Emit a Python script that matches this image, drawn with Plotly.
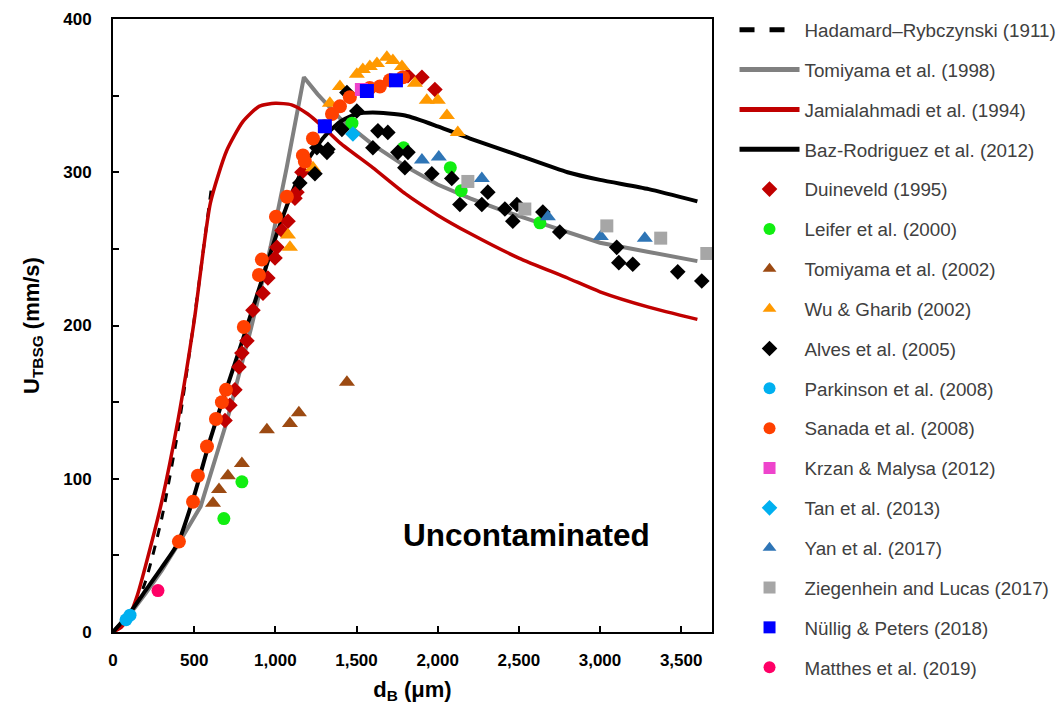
import plotly.graph_objects as go

# ---- model curves ----
hr_d = [0, 100, 200, 300, 400, 500, 610]
hr_u = [0, 8, 33, 74, 131, 204, 293]

tom98_d = [0, 100, 200, 300, 400, 540, 700, 850, 970, 1070, 1176, 1260, 1400, 1600, 1800, 2000, 2200, 2400, 2600, 2800, 3000, 3300, 3600]
tom98_u = [0, 11, 25, 40, 57, 82, 137, 198, 251, 303, 362, 351, 335, 318, 304, 292, 283, 275, 268, 261, 254, 248, 242]

jam_d = [0, 50, 100, 150, 200, 300, 400, 500, 600, 700, 800, 900, 1000, 1100, 1200, 1300, 1400, 1600, 1800, 2000, 2200, 2500, 2800, 3000, 3300, 3600]
jam_u = [0, 3, 10, 24, 43, 85, 138, 203, 280, 314, 333, 343, 345, 344, 338, 329, 319, 303, 286, 272, 260, 244, 231, 222, 212, 204]

baz_d = [0, 100, 200, 300, 400, 500, 600, 700, 800, 900, 1000, 1100, 1200, 1300, 1400, 1500, 1600, 1800, 2000, 2200, 2500, 2800, 3000, 3300, 3600]
baz_u = [0, 12, 27, 42, 58, 89, 126, 159, 191, 224, 257, 286, 308, 323, 333, 338, 339, 337, 330, 322, 311, 300, 295, 289, 281]

duin_d = [690, 720, 751, 776, 794, 825, 862, 924, 954, 998, 1010, 1041, 1078, 1121, 1133, 1164, 1817, 1903, 1983]
duin_u = [138, 148, 158, 173, 182, 190, 210, 221, 231, 244, 251, 262, 268, 283, 287, 300, 363, 362, 354]

leif_d = [683, 794, 1472, 1790, 2078, 2145, 2630]
leif_u = [74, 98, 332, 316, 303, 288, 267]

tom02_d = [616, 653, 708, 794, 948, 1090, 1145, 1441]
tom02_u = [84, 93, 102, 110, 132, 136, 143, 163]

wu_d = [1078, 1090, 1232, 1336, 1398, 1502, 1539, 1582, 1626, 1687, 1724, 1780, 1860, 1933, 2001, 2057, 2124]
wu_u = [259, 251, 303, 345, 356, 364, 367, 369, 371, 375, 373, 369, 358, 347, 347, 337, 326]

alves_d = [1151, 1244, 1318, 1256, 1324, 1410, 1441, 1502, 1632, 1693, 1601, 1755, 1817, 1798, 1964, 2087, 2137,
           2272, 2309, 2414, 2463, 2488, 2648, 2752, 3103, 3116, 3202, 3479, 3627]
alves_u = [293, 299, 313, 316, 315, 328, 352, 340, 327, 326, 316, 313, 313, 303, 299, 296, 279,
           279, 287, 276, 268, 279, 274, 261, 251, 241, 240, 235, 229]

park_d = [80, 105]
park_u = [8, 11]

san_d = [406, 493, 523, 579, 634, 671, 696, 806, 899, 917, 1004, 1071, 1170, 1182, 1232, 1305, 1349, 1398, 1459, 1582, 1644, 1706, 1786]
san_u = [59, 85, 102, 121, 139, 150, 158, 199, 233, 243, 271, 284, 311, 307, 322, 330, 338, 343, 349, 355, 356, 360, 362]

krzan_d = [1530]
krzan_u = [354]

tan_d = [1478]
tan_u = [325]

yan_d = [1903, 2007, 2272, 2679, 3005, 3276]
yan_u = [308, 310, 296, 271, 258, 257]

zieg_d = [2186, 2537, 3042, 3374, 3658]
zieg_u = [294, 276, 265, 257, 247]

null_d = [1305, 1564, 1743]
null_u = [330, 353, 360]

matt_d = [277]
matt_u = [27]

fig = go.Figure()

lines = [
    ("Hadamard\u2013Rybczynski (1911)", hr_d, hr_u, "black", 3, "dash", "spline"),
    ("Tomiyama et al. (1998)", tom98_d, tom98_u, "#808080", 4, "solid", "linear"),
    ("Jamialahmadi et al. (1994)", jam_d, jam_u, "#C00000", 3.5, "solid", "spline"),
    ("Baz-Rodriguez et al. (2012)", baz_d, baz_u, "black", 4, "solid", "spline"),
]
for i, (name, x, y, c, w, dash, shape) in enumerate(lines):
    fig.add_trace(go.Scatter(x=x, y=y, mode="lines", name=name, legendgroup=str(i),
                             line=dict(color=c, width=w, dash=dash, shape=shape, smoothing=0.6)))

markers = [
    ("Duineveld (1995)", duin_d, duin_u, "#C00000", "diamond", 12),
    ("Leifer et al. (2000)", leif_d, leif_u, "#11EE11", "circle", 13),
    ("Tomiyama et al. (2002)", tom02_d, tom02_u, "#9C4A12", "triangle-up", 14),
    ("Wu & Gharib (2002)", wu_d, wu_u, "#FF9900", "triangle-up", 14),
    ("Alves et al. (2005)", alves_d, alves_u, "black", "diamond", 12),
    ("Parkinson et al. (2008)", park_d, park_u, "#00B0F0", "circle", 13),
    ("Sanada et al. (2008)", san_d, san_u, "#FF4000", "circle", 14),
    ("Krzan & Malysa (2012)", krzan_d, krzan_u, "#EE44CC", "square", 13),
    ("Tan et al. (2013)", tan_d, tan_u, "#00B0F0", "diamond", 12),
    ("Yan et al. (2017)", yan_d, yan_u, "#2E75B6", "triangle-up", 14),
    ("Ziegenhein and Lucas (2017)", zieg_d, zieg_u, "#A6A6A6", "square", 13),
    ("N\u00fcllig & Peters (2018)", null_d, null_u, "#0000FF", "square", 14),
    ("Matthes et al. (2019)", matt_d, matt_u, "#FF0066", "circle", 13),
]
for j, (name, x, y, c, sym, s) in enumerate(markers):
    fig.add_trace(go.Scatter(x=x, y=y, mode="markers", name=name, legendgroup=str(10 + j),
                             marker=dict(color=c, symbol=sym, size=s, line=dict(width=0))))

fig.add_annotation(x=2549, y=63, text="<b>Uncontaminated</b>", showarrow=False,
                   font=dict(family="Liberation Sans, Arial", size=31.5, color="black"))

axis_common = dict(showline=True, linecolor="black", linewidth=2, mirror=True, ticks="inside",
                   ticklen=6, tickwidth=2, tickcolor="black", showgrid=False, zeroline=False,
                   tickfont=dict(family="Liberation Sans, Arial", size=17, color="black", weight="bold"))

fig.update_xaxes(range=[0, 3690], tickvals=[0, 500, 1000, 1500, 2000, 2500, 3000, 3500],
                 tickformat=",", ticklabelstandoff=12,
                 title=dict(text="<b>d<sub>B</sub> (\u03bcm)</b>", standoff=12,
                            font=dict(family="Liberation Sans, Arial", size=22, color="black")),
                 **axis_common)
fig.update_yaxes(range=[0, 400], tickvals=[0, 100, 200, 300, 400], ticklabelstandoff=16,
                 minor=dict(ticks="inside", dtick=50, ticklen=6, tickwidth=2, tickcolor="black"),
                 title=dict(text="<b>U<sub>TBSG</sub> (mm/s)</b>", standoff=18,
                            font=dict(family="Liberation Sans, Arial", size=22, color="black")),
                 **axis_common)

fig.update_layout(
    width=1062, height=721,
    margin=dict(l=113, r=350, t=19, b=89, autoexpand=False),
    plot_bgcolor="white", paper_bgcolor="white",
    legend=dict(x=1.0376, y=1.013, xanchor="left", yanchor="top", tracegroupgap=12.4,
                font=dict(family="Liberation Sans, Arial", size=18.8, color="#404040"),
                bgcolor="rgba(0,0,0,0)", maxheight=721, itemsizing="constant", itemwidth=60),
)

fig.write_html("out.html")
